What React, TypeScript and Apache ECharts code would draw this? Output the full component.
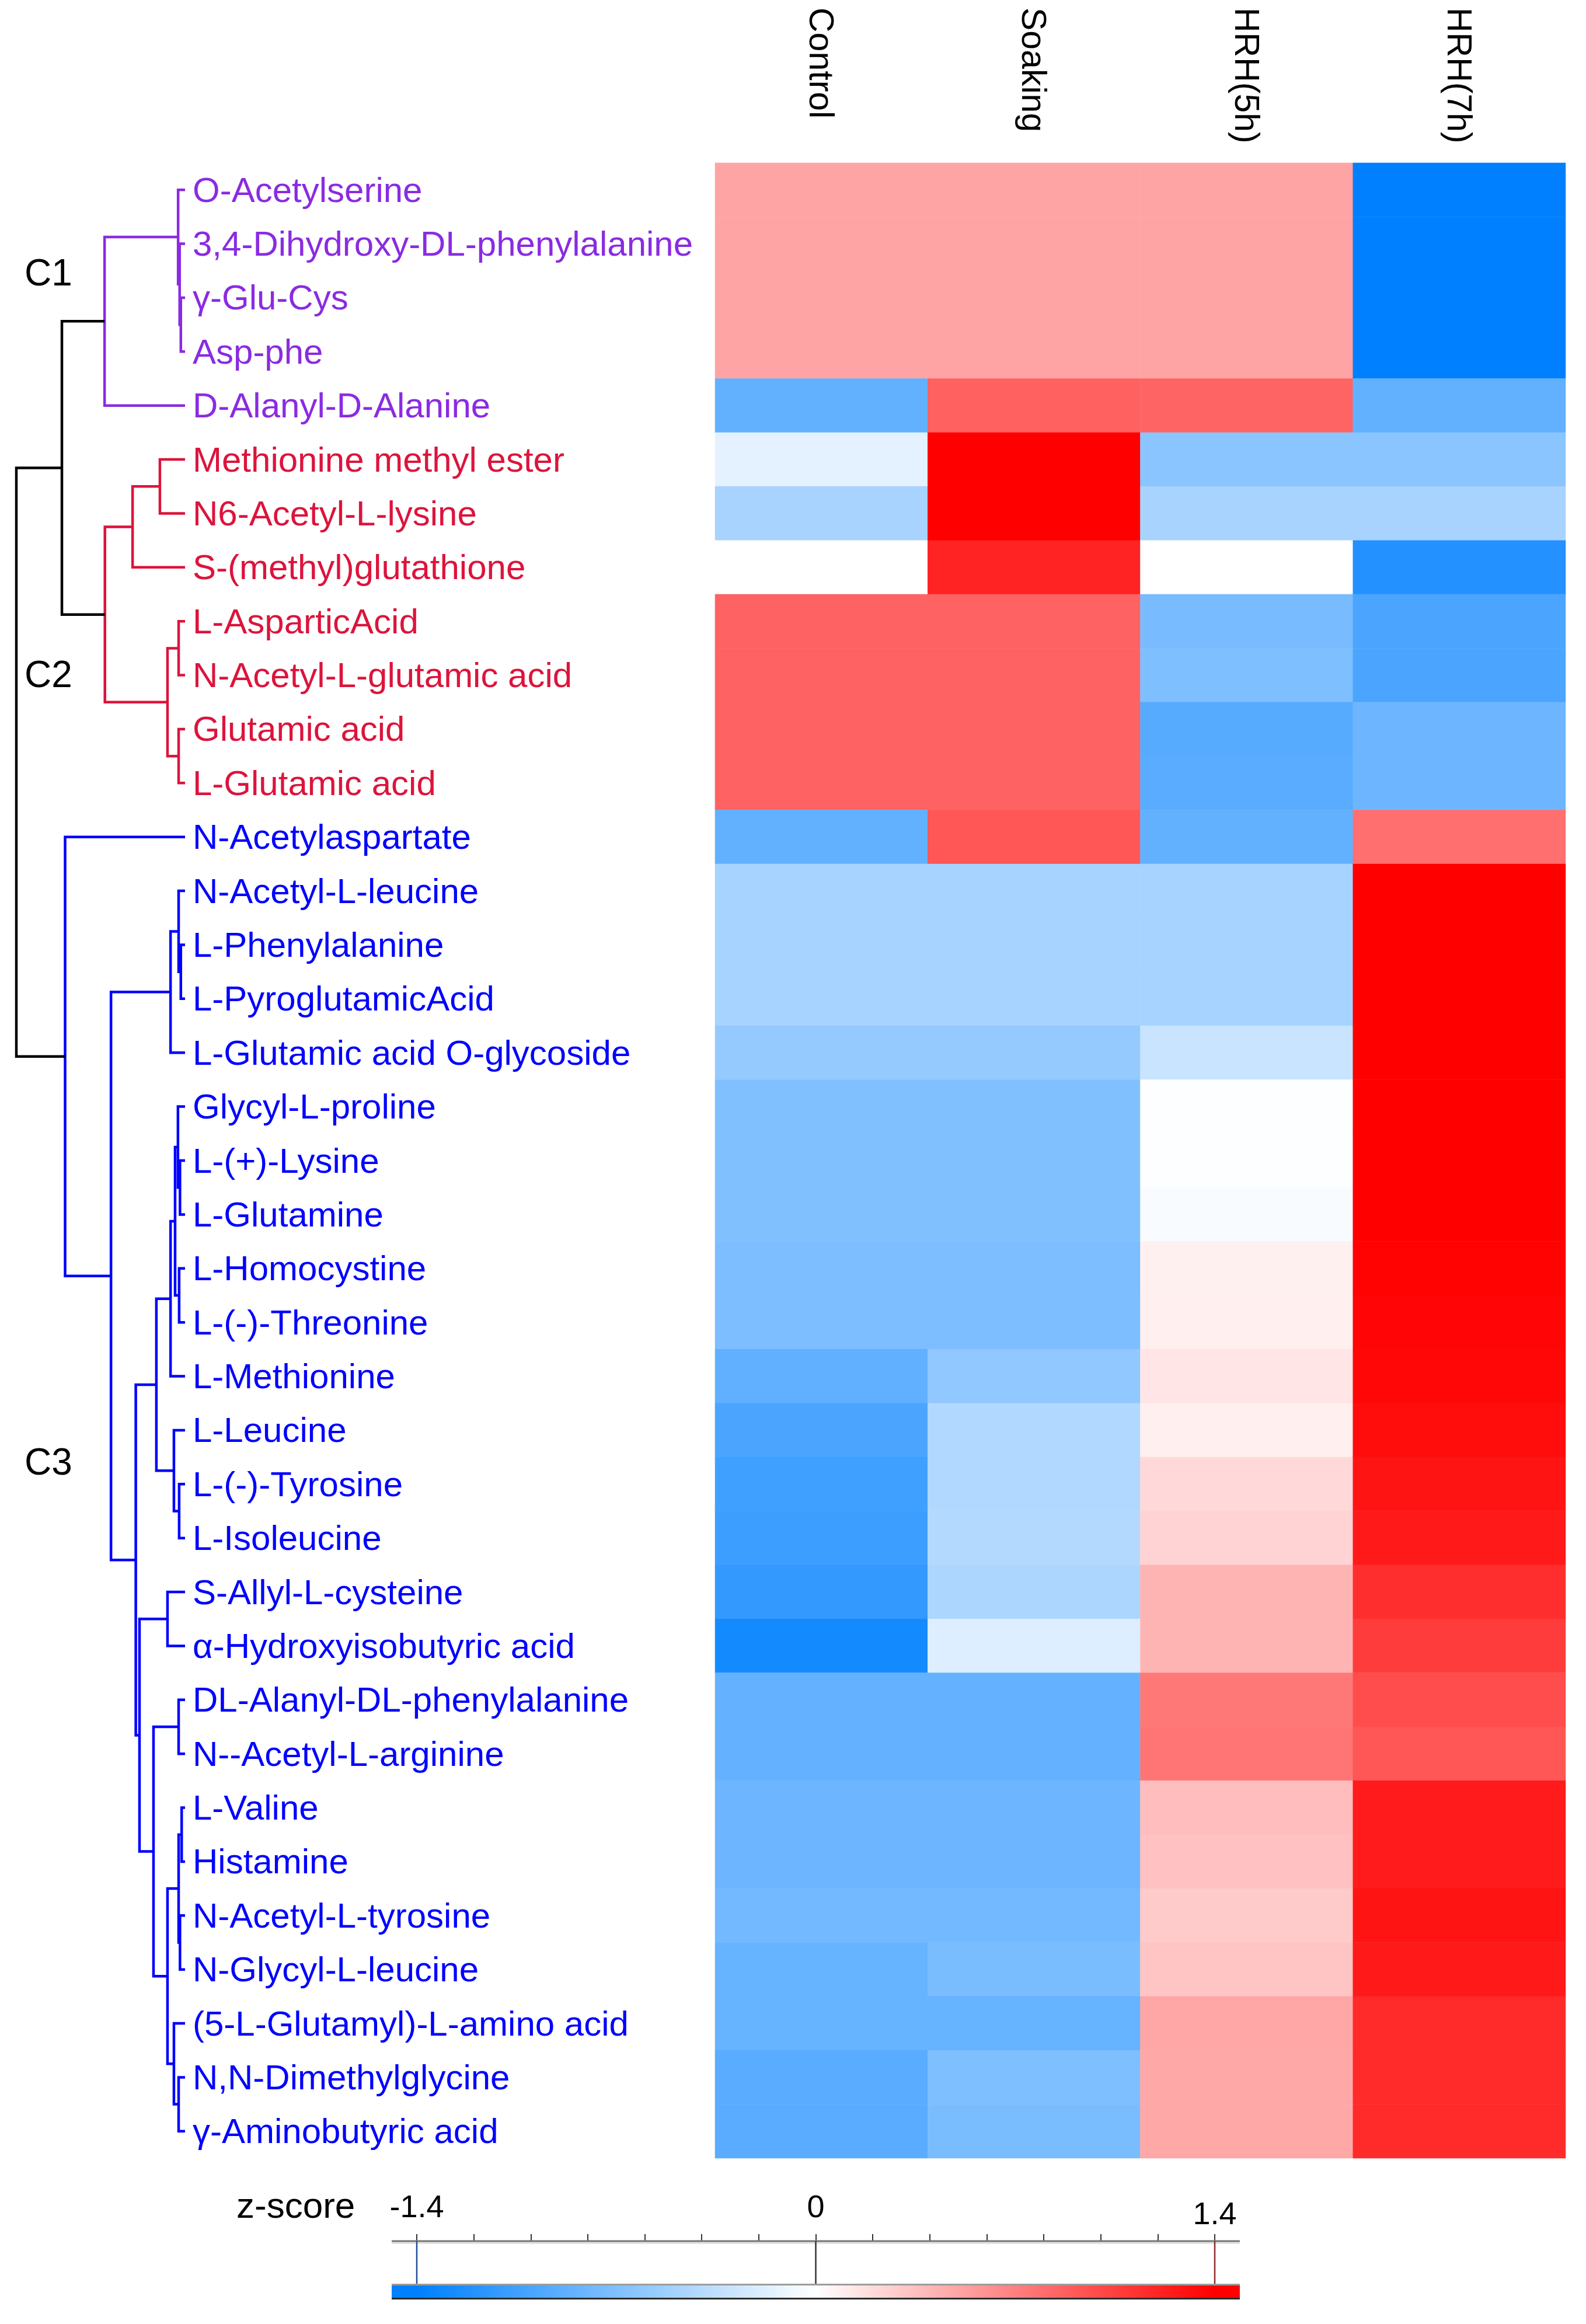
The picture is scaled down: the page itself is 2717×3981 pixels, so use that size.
import React, { useEffect, useRef } from 'react';
import * as echarts from 'echarts';

// ---------------- data ----------------
const columns = ['Control', 'Soaking', 'HRH(5h)', 'HRH(7h)'];

const metabolites = [
  'O-Acetylserine',
  '3,4-Dihydroxy-DL-phenylalanine',
  'γ-Glu-Cys',
  'Asp-phe',
  'D-Alanyl-D-Alanine',
  'Methionine methyl ester',
  'N6-Acetyl-L-lysine',
  'S-(methyl)glutathione',
  'L-AsparticAcid',
  'N-Acetyl-L-glutamic acid',
  'Glutamic acid',
  'L-Glutamic acid',
  'N-Acetylaspartate',
  'N-Acetyl-L-leucine',
  'L-Phenylalanine',
  'L-PyroglutamicAcid',
  'L-Glutamic acid O-glycoside',
  'Glycyl-L-proline',
  'L-(+)-Lysine',
  'L-Glutamine',
  'L-Homocystine',
  'L-(-)-Threonine',
  'L-Methionine',
  'L-Leucine',
  'L-(-)-Tyrosine',
  'L-Isoleucine',
  'S-Allyl-L-cysteine',
  'α-Hydroxyisobutyric acid',
  'DL-Alanyl-DL-phenylalanine',
  'N--Acetyl-L-arginine',
  'L-Valine',
  'Histamine',
  'N-Acetyl-L-tyrosine',
  'N-Glycyl-L-leucine',
  '(5-L-Glutamyl)-L-amino acid',
  'N,N-Dimethylglycine',
  'γ-Aminobutyric acid',
];

// cluster index of each metabolite (0 = C1, 1 = C2, 2 = C3)
const clusterOf = [
  0, 0, 0, 0, 0,
  1, 1, 1, 1, 1, 1, 1,
  2, 2, 2, 2, 2, 2, 2, 2, 2, 2, 2, 2, 2, 2, 2, 2, 2, 2, 2, 2, 2, 2, 2, 2, 2,
];
const clusterNames = ['C1', 'C2', 'C3'];
const clusterColors = ['#8A2BE2', '#DC143C', '#0000FF'];

// z-scores per column
const control = [
  0.5, 0.5, 0.5, 0.5, -0.86, -0.15, -0.48, 0.0, 0.86, 0.86, 0.86, 0.86, -0.86,
  -0.49, -0.49, -0.49, -0.58, -0.7, -0.7, -0.69, -0.72, -0.72, -0.87, -0.99, -1.05,
  -1.07, -1.12, -1.29, -0.85, -0.85, -0.8, -0.8, -0.77, -0.84, -0.84, -0.91, -0.91,
];
const soaking = [
  0.5, 0.5, 0.5, 0.5, 0.87, 1.4, 1.4, 1.21, 0.86, 0.86, 0.86, 0.86, 0.93,
  -0.49, -0.49, -0.49, -0.58, -0.7, -0.7, -0.69, -0.72, -0.72, -0.61, -0.43, -0.43,
  -0.42, -0.45, -0.19, -0.85, -0.85, -0.8, -0.8, -0.77, -0.73, -0.84, -0.71, -0.73,
];
const hrh5h = [
  0.5, 0.5, 0.5, 0.5, 0.85, -0.64, -0.48, 0.0, -0.74, -0.71, -0.93, -0.91, -0.86,
  -0.49, -0.49, -0.49, -0.3, -0.01, -0.01, -0.04, 0.08, 0.09, 0.14, 0.09, 0.21,
  0.24, 0.41, 0.41, 0.74, 0.76, 0.36, 0.34, 0.29, 0.32, 0.49, 0.48, 0.48,
];
const hrh7h = [
  -1.4, -1.4, -1.4, -1.4, -0.86, -0.64, -0.48, -1.21, -0.99, -0.99, -0.8, -0.8, 0.79,
  1.4, 1.4, 1.4, 1.4, 1.4, 1.4, 1.4, 1.39, 1.37, 1.36, 1.33, 1.29,
  1.26, 1.15, 1.07, 0.98, 0.93, 1.25, 1.25, 1.29, 1.26, 1.17, 1.17, 1.17,
];
const columnValues = [control, soaking, hrh5h, hrh7h];

// hierarchical clustering (hclust style): negative = leaf (1-based row), positive = earlier merge (1-based)
const merges = [
  [-3, -4], [-2, 1], [-1, 2], [3, -5],
  [-6, -7], [5, -8], [-9, -10], [-11, -12], [7, 8], [6, 9],
  [4, 10],
  [-15, -16], [-14, 12], [13, -17],
  [-19, -20], [-18, 15], [-21, -22], [16, 17], [18, -23],
  [-25, -26], [-24, 20], [19, 21],
  [-27, -28], [-29, -30], [-31, -32], [-33, -34], [25, 26],
  [-36, -37], [-35, 28], [27, 29], [24, 30], [23, 31], [22, 32],
  [14, 33], [-13, 34], [11, 35],
];
const mergeHeights = [
  0.25, 0.32, 0.41, 4.77,
  1.49, 3.11, 0.38, 0.38, 1.04, 4.75,
  7.3,
  0.25, 0.38, 0.86,
  0.3, 0.42, 0.35, 0.59, 0.86,
  0.35, 0.66, 1.7,
  1.04, 0.38, 0.2, 0.3, 0.38,
  0.38, 0.66, 1.04, 1.87, 2.7, 2.92,
  4.39, 7.11, 10.0,
];

// colour scale
const scaleColors = ['#0080FF', '#FFFFFF', '#FF0000'];
const scaleMin = -1.4;
const scaleMax = 1.4;
const scaleStep = 0.2;
const scaleTicks = [-1.4, 0, 1.4];
const scaleTickLabels = ['-1.4', '0', '1.4'];
const scaleExtent = [-1.488, 1.488];
const scaleMarkerColors = ['#1f4f9a', '#333333', '#8e2b2b'];

// ---------------- helpers ----------------
const SANS = "'Liberation Sans', Arial, Helvetica, sans-serif";
const NARROW = "'Liberation Sans Narrow', 'Liberation Sans', Arial, sans-serif";

type NodeInfo = { pos: number; h: number; leaves: number[] };

function buildDendrogram() {
  const info: NodeInfo[] = [];
  const get = (r: number): NodeInfo =>
    r < 0 ? { pos: -r - 1, h: 0, leaves: [-r - 1] } : info[r - 1];
  const links: number[][] = [];
  const colors: string[] = [];
  merges.forEach((m, i) => {
    const a = get(m[0]);
    const b = get(m[1]);
    const h = mergeHeights[i];
    const leaves = a.leaves.concat(b.leaves);
    info.push({ pos: (a.pos + b.pos) / 2, h, leaves });
    links.push([h, a.pos, b.pos, a.h, b.h]);
    const cs = new Set(leaves.map((l) => clusterOf[l]));
    colors.push(cs.size === 1 ? clusterColors[clusterOf[leaves[0]]] : '#000000');
  });
  return { links, colors };
}

function buildOption() {
  const heatData: number[][] = [];
  columnValues.forEach((vals, c) => {
    vals.forEach((v, r) => heatData.push([c, r, v]));
  });
  const { links, colors } = buildDendrogram();

  const GRID_TOP = 279;
  const GRID_H = 3418;

  return {
    animation: false,
    backgroundColor: '#ffffff',
    grid: [
      { left: 1225, top: GRID_TOP, width: 1457, height: GRID_H, outerBoundsMode: 'none', containLabel: false },
      { left: 28, top: GRID_TOP, width: 289, height: GRID_H, outerBoundsMode: 'none', containLabel: false },
      { left: 714, top: 3839, width: 1367, height: 100, outerBoundsMode: 'none', containLabel: false },
    ],
    xAxis: [
      {
        gridIndex: 0,
        type: 'category',
        data: columns,
        position: 'top',
        axisLine: { show: false },
        axisTick: { show: false },
        splitLine: { show: false },
        axisLabel: { show: false },
      },
      { gridIndex: 1, type: 'value', min: 0, max: 10, inverse: true, show: false },
      {
        gridIndex: 2,
        type: 'value',
        min: scaleMin,
        max: scaleMax,
        interval: scaleStep,
        position: 'top',
        axisLine: { show: false },
        splitLine: { show: false },
        axisTick: { show: true, inside: false, length: 12, lineStyle: { color: '#333333', width: 2 } },
        axisLabel: {
          margin: 21,
          formatter: (v: number) => {
            const i = scaleTicks.findIndex((t) => Math.abs(t - v) < 1e-6);
            if (i < 0) return '';
            return i === scaleTicks.length - 1 ? `{lo|${scaleTickLabels[i]}}` : `{hi|${scaleTickLabels[i]}}`;
          },
          rich: {
            hi: { fontSize: 54, lineHeight: 78, fontFamily: SANS, color: '#000000' },
            lo: { fontSize: 54, lineHeight: 54, fontFamily: SANS, color: '#000000' },
          },
        },
      },
    ],
    yAxis: [
      {
        gridIndex: 0,
        type: 'category',
        data: metabolites,
        inverse: true,
        axisLine: { show: false },
        axisTick: { show: false },
        splitLine: { show: false },
        axisLabel: {
          interval: 0,
          align: 'left',
          margin: 895,
          fontSize: 60,
          fontFamily: SANS,
          color: (_v: string, i: number) => clusterColors[clusterOf[i]],
        },
      },
      { gridIndex: 1, type: 'value', min: -0.5, max: metabolites.length - 0.5, inverse: true, show: false },
      { gridIndex: 2, type: 'value', min: 0, max: 100, inverse: true, show: false },
    ],
    visualMap: [
      {
        type: 'continuous',
        show: false,
        min: scaleMin,
        max: scaleMax,
        seriesIndex: 0,
        dimension: 2,
        inRange: { color: scaleColors },
      },
    ],
    series: [
      {
        type: 'heatmap',
        xAxisIndex: 0,
        yAxisIndex: 0,
        data: heatData,
        itemStyle: { borderWidth: 0 },
        emphasis: { disabled: true },
        progressive: 0,
      },
      {
        type: 'custom',
        xAxisIndex: 1,
        yAxisIndex: 1,
        clip: false,
        data: links,
        renderItem: (params: any, api: any) => {
          const h = api.value(0);
          const pa = api.value(1);
          const pb = api.value(2);
          const ha = api.value(3);
          const hb = api.value(4);
          const pts = [
            api.coord([ha, pa]),
            api.coord([h, pa]),
            api.coord([h, pb]),
            api.coord([hb, pb]),
          ];
          return {
            type: 'polyline',
            shape: { points: pts },
            style: { stroke: colors[params.dataIndex], lineWidth: 4.5, fill: null, lineJoin: 'miter' },
          };
        },
      },
      {
        type: 'custom',
        xAxisIndex: 2,
        yAxisIndex: 2,
        clip: false,
        data: [[0, 0]],
        renderItem: (_params: any, api: any) => {
          const c = (x: number, y: number) => api.coord([x, y]);
          const left = c(scaleExtent[0], 0)[0];
          const right = c(scaleExtent[1], 0)[0];
          const top = c(0, 0)[1];
          const grayTop = c(0, 73)[1];
          const barTop = c(0, 76)[1];
          const barBot = c(0, 97)[1];
          const bottom = c(0, 100)[1];
          const span = scaleExtent[1] - scaleExtent[0];
          const off = (v: number) => (v - scaleExtent[0]) / span;
          const children: any[] = [
            { type: 'rect', shape: { x: left, y: top, width: right - left, height: 5 }, style: { fill: '#e3e3e3' } },
            { type: 'line', shape: { x1: left, y1: top, x2: right, y2: top }, style: { stroke: '#777777', lineWidth: 3 } },
          ];
          scaleTicks.forEach((t, i) => {
            const x = c(t, 0)[0];
            children.push({
              type: 'line',
              shape: { x1: x, y1: top, x2: x, y2: barTop },
              style: { stroke: scaleMarkerColors[i], lineWidth: 2.5 },
            });
          });
          children.push(
            { type: 'rect', shape: { x: left, y: grayTop, width: right - left, height: barTop - grayTop }, style: { fill: '#9c9c9c' } },
            {
              type: 'rect',
              shape: { x: left, y: barTop, width: right - left, height: barBot - barTop },
              style: {
                fill: {
                  type: 'linear', x: 0, y: 0, x2: 1, y2: 0,
                  colorStops: [
                    { offset: 0, color: scaleColors[0] },
                    { offset: off(scaleMin), color: scaleColors[0] },
                    { offset: off(0), color: scaleColors[1] },
                    { offset: off(scaleMax), color: scaleColors[2] },
                    { offset: 1, color: scaleColors[2] },
                  ],
                },
              },
            },
            { type: 'rect', shape: { x: left, y: barBot, width: right - left, height: bottom - barBot }, style: { fill: '#2b2b2b' } },
          );
          return { type: 'group', children };
        },
      },
    ],
    graphic: [
      { id: 'c1', type: 'text', x: 42, y: 467, style: { text: clusterNames[0], fontSize: 64, fontFamily: NARROW, fill: '#000000', align: 'left', verticalAlign: 'middle' } },
      { id: 'c2', type: 'text', x: 42, y: 1155, style: { text: clusterNames[1], fontSize: 64, fontFamily: NARROW, fill: '#000000', align: 'left', verticalAlign: 'middle' } },
      { id: 'c3', type: 'text', x: 42, y: 2504, style: { text: clusterNames[2], fontSize: 64, fontFamily: NARROW, fill: '#000000', align: 'left', verticalAlign: 'middle' } },
      { id: 'zs', type: 'text', x: 405, y: 3777, style: { text: 'z-score', fontSize: 62, fontFamily: NARROW, fill: '#000000', align: 'left', verticalAlign: 'middle' } },
    ],
  };
}

export default function App() {
  const ref = useRef<HTMLDivElement>(null);
  useEffect(() => {
    document.body.style.margin = '0';
    if (!ref.current) return;
    const chart = echarts.init(ref.current, null, { renderer: 'svg' });
    chart.setOption(buildOption() as any);
    // column headers: rotated clockwise, start-aligned at the top, centred on each category
    const headers = columns.map((col, i) => {
      const px = chart.convertToPixel({ xAxisIndex: 0 }, col) as number;
      return {
        id: 'col' + i,
        type: 'text',
        x: px,
        y: 13,
        rotation: -Math.PI / 2,
        style: {
          text: col,
          fontSize: 59,
          fontFamily: SANS,
          fill: '#000000',
          align: 'left',
          verticalAlign: 'middle',
        },
      };
    });
    chart.setOption({ graphic: headers } as any);
    return () => {
      chart.dispose();
    };
  }, []);
  return <div ref={ref} style={{ width: 2717, height: 3981, background: '#ffffff' }} />;
}
